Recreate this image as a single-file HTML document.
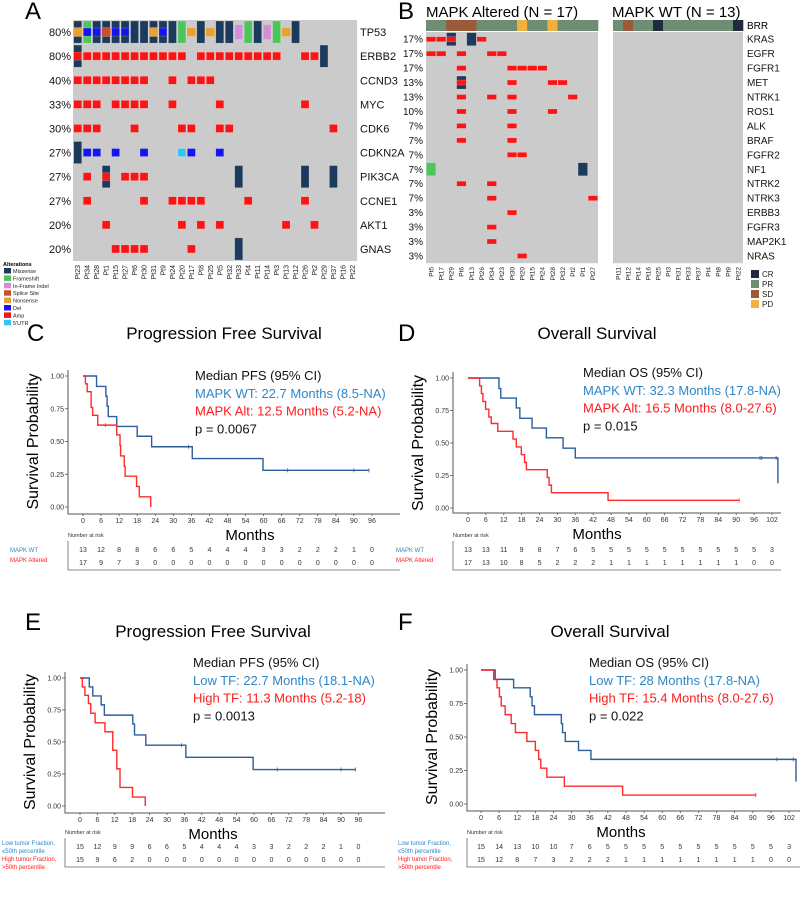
<!DOCTYPE html>
<html><head><meta charset="utf-8">
<style>
html,body{margin:0;padding:0;background:#fff;}
svg{display:block;font-family:"Liberation Sans",sans-serif;}
</style></head>
<body>
<svg id="fig" width="800" height="902" viewBox="0 0 800 902" xmlns="http://www.w3.org/2000/svg"></svg>
<script>
// ---------- Panel A data ----------
const aGenes = ["TP53","ERBB2","CCND3","MYC","CDK6","CDKN2A","PIK3CA","CCNE1","AKT1","GNAS"];
const aPct = ["80%","80%","40%","33%","30%","27%","27%","27%","20%","20%"];
const aPatients = ["Pt23","Pt34","Pt28","Pt1","Pt15","Pt27","Pt6","Pt30","Pt31","Pt9","Pt24","Pt20","Pt17","Pt8","Pt25","Pt5","Pt32","Pt33","Pt4","Pt11","Pt14","Pt3","Pt13","Pt12","Pt26","Pt2","Pt29","Pt37","Pt16","Pt22"];
const aRows = [
"MN FD MD MS MD MD M M MN MD M F DN M N M M I F M I F N M . . . . . .",
"MA A A A A A A A A A A A . A A A A A A A A A . . A A M . . .",
"A A A A A A A A . . A . A A A . . . . . . . . . . . . . . .",
"A A A . A A A A . . A . . . . A . . . . . . . . A . . . . .",
"A A A . . . A . . . . A A . . A A . . . . . . . . . . A . .",
"M D D . D . . D . . . U D . . D . . . . . . . . . . . . . .",
". A . MA . A A A . . . . . . . . . M . . . . . . M . . M . .",
". A . . . . . A . . A A A A . . . . A . . . . . A . . . . .",
". . . A . . . . . . . A . A . A . . . . . . A . . A . . . .",
". . . . A A A A . . . . A . . . . M . . . . . . . . . . . ."
];
// ---------- Panel B data ----------
const bGenes = ["KRAS","EGFR","FGFR1","MET","NTRK1","ROS1","ALK","BRAF","FGFR2","NF1","NTRK2","NTRK3","ERBB3","FGFR3","MAP2K1","NRAS"];
const bPct = ["17%","17%","17%","13%","13%","10%","7%","7%","7%","7%","7%","7%","3%","3%","3%","3%"];
const bAltPatients = ["Pt5","Pt17","Pt29","Pt6","Pt13","Pt26","Pt34","Pt23","Pt30","Pt20","Pt15","Pt24","Pt28","Pt32","Pt2","Pt1","Pt27"];
const bWtPatients = ["Pt11","Pt12","Pt14","Pt16","Pt25","Pt3","Pt31","Pt33","Pt37","Pt4","Pt8","Pt9","Pt22"];
const bAltBRR = ["PR","PR","SD","SD","SD","PR","PR","PR","PR","PD","PR","PR","PD","PR","PR","PR","PR"];
const bWtBRR = ["PR","SD","PR","PR","CR","PR","PR","PR","PR","PR","PR","PR","CR"];
const bRows = [
"A A MA . M A . . . . . . . . . . .",
"A A . A . . A A . . . . . . . . .",
". . . A . . . . A A A A . . . . .",
". . . MA . . . . A . . . A A . . .",
". . . A . . A . A . . . . . A . .",
". . . A . . . . A . . . A . . . .",
". . . A . . . . A . . . . . . . .",
". . . A . . . . A . . . . . . . .",
". . . . . . . . A A . . . . . . .",
"F . . . . . . . . . . . . . . M .",
". . . A . . A . . . . . . . . . .",
". . . . . . A . . . . . . . . . A",
". . . . . . . . A . . . . . . . .",
". . . . . . A . . . . . . . . . .",
". . . . . . A . . . . . . . . . .",
". . . . . . . . . A . . . . . . ."
];
// ---------- KM data ----------
const cWtTimes=[4.5,7.6,8,8.4,11.2,18,22.8,36.3,59.8];
const cWtSurv=[0.92,0.846,0.77,0.69,0.615,0.54,0.46,0.37,0.28];
const cWtCens=[35,68,90,95];
const cAltTimes=[0.8,1.4,2.7,3.2,4.9,11.2,12.3,12.5,13.7,14,17.8,18.7,22.5];
const cAltSurv=[0.94,0.88,0.76,0.70,0.625,0.55,0.47,0.39,0.31,0.235,0.157,0.078,0];
const cAltCens=[7.4];
const cRiskWt=[13,12,8,8,6,6,5,4,4,4,3,3,2,2,2,1,0];
const cRiskAlt=[17,9,7,3,0,0,0,0,0,0,0,0,0,0,0,0,0];

const dWtTimes=[10.4,11,16.2,17.4,21.5,26.3,31.9,36,104];
const dWtSurv=[0.92,0.846,0.77,0.69,0.615,0.54,0.46,0.385,0.19];
const dWtCens=[98,98.6,103.4];
const dAltTimes=[3.9,4.5,5,5.9,7,7.8,10,15.1,16.2,17.9,19,19.6,26.6,27.2,28,47];
const dAltSurv=[0.94,0.88,0.82,0.76,0.70,0.65,0.59,0.53,0.47,0.41,0.35,0.295,0.235,0.176,0.118,0.059];
const dAltCens=[91];
const dRiskWt=[13,13,11,9,8,7,6,5,5,5,5,5,5,5,5,5,5,3];
const dRiskAlt=[17,13,10,8,5,2,2,2,1,1,1,1,1,1,1,1,0,0];

const eLowTimes=[3.2,4.4,7.3,8.4,18.2,18.8,22.7,36.5,59.7];
const eLowSurv=[0.93,0.86,0.79,0.71,0.64,0.555,0.475,0.38,0.285];
const eLowCens=[35,68,90,95];
const eHighTimes=[0.8,1.7,2.9,3.7,5.2,8.6,11.3,12.7,13.8,18.1,22.5];
const eHighSurv=[0.93,0.865,0.80,0.725,0.65,0.58,0.435,0.29,0.145,0.07,0];
const eHighCens=[];
const eRiskLow=[15,12,9,9,6,6,5,4,4,4,3,3,2,2,2,1,0];
const eRiskHigh=[15,9,6,2,0,0,0,0,0,0,0,0,0,0,0,0,0];

const fLowTimes=[4.7,10.8,16.3,16.9,17.7,26.6,27,27.9,32.3,36.4,104.3];
const fLowSurv=[0.93,0.867,0.80,0.733,0.667,0.60,0.533,0.467,0.40,0.333,0.167];
const fLowCens=[98,103.4];
const fHighTimes=[4.2,5.3,6.1,6.7,8,10,11.4,15.2,18,19.1,19.8,21.8,27.6,46.9];
const fHighSurv=[0.93,0.867,0.80,0.733,0.667,0.60,0.533,0.467,0.40,0.333,0.267,0.20,0.133,0.067];
const fHighCens=[91];
const fRiskLow=[15,14,13,10,10,7,6,5,5,5,5,5,5,5,5,5,5,3];
const fRiskHigh=[15,12,8,7,3,2,2,2,1,1,1,1,1,1,1,1,0,0];

const yTicks=["0.00","0.25","0.50","0.75","1.00"];

// ---------- helpers ----------
const NS="http://www.w3.org/2000/svg";
const svg=document.getElementById('fig');
function el(tag,attrs,parent,txt){const e=document.createElementNS(NS,tag);for(const k in attrs)e.setAttribute(k,attrs[k]);if(txt!==undefined)e.textContent=txt;(parent||svg).appendChild(e);return e;}
const COL={M:"#1b3a5c",F:"#4cc65c",I:"#d38fd6",S:"#c8502a",N:"#e9a035",D:"#1414ee",A:"#fb1414",U:"#33c4f2"};
const BRRC={CR:"#222a42",PR:"#6f8d73",SD:"#9b5b3b",PD:"#f0b142"};

// ---------- Panel A ----------
(function(){
  const g=el('g',{});
  
  
  const lab=el('text',{x:25,y:19,'font-size':24},g,'A');
  
  const x0=73,y0=20,cw=9.47,rh=24.1;
  const bg=el('rect',{x:x0,y:y0,width:cw*aPatients.length,height:rh*aGenes.length,fill:'#cbcbcb'},g);
  
  aGenes.forEach((gn,r)=>{
    const cy=y0+rh*r+rh/2;
    const t=el('text',{x:360,y:cy+4,'font-size':11,fill:'#111'},g,gn);
    
    const p=el('text',{x:71,y:cy+4,'font-size':11,'text-anchor':'end',fill:'#111'},g,aPct[r]);
    
    aRows[r].split(' ').forEach((code,c)=>{
      if(code==='.')return;
      const cx=x0+cw*c+cw/2;
      for(const ch of code){
        let w=8,h;
        if(ch==='M'||ch==='F'){h=rh-2;}else if(ch==='I'){h=15;}else{h=8;}
        if(ch==='N'||ch==='S'){w=9;h=9;}
        const rc=el('rect',{x:cx-w/2,y:cy-h/2,width:w,height:h,fill:COL[ch],stroke:'rgba(255,255,255,0.35)','stroke-width':0.5},g);
        
      }
    });
  });
  aPatients.forEach((p,c)=>{
    const cx=x0+cw*c+cw/2;
    const t=el('text',{x:0,y:0,'font-size':7,'text-anchor':'end',fill:'#222',transform:`translate(${cx+2.5},${265}) rotate(-90)`},g,p);
    
  });
  // legend
  const lg=el('g',{},g);
  
  el('text',{x:3,y:266,'font-size':5.5,'font-weight':'bold'},lg,'Alterations');
  const items=[["Missense","M"],["Frameshift","F"],["In-Frame Indel","I"],["Splice Site","S"],["Nonsense","N"],["Del","D"],["Amp","A"],["5'UTR","U"]];
  items.forEach((it,i)=>{
    const y=268+i*7.4;
    const e=el('rect',{x:4,y:y,width:7,height:5.5,fill:COL[it[1]]},lg);
    
    el('text',{x:13,y:y+5,'font-size':5.5,fill:'#222'},lg,it[0]);
  });
})();

// ---------- Panel B ----------
(function(){
  const g=el('g',{});
  
  
  const lab=el('text',{x:398,y:19,'font-size':24},g,'B');
  
  const t1=el('text',{x:426,y:17,'font-size':15},g,'MAPK Altered (N = 17)');
  
  const t2=el('text',{x:612,y:17,'font-size':15},g,'MAPK WT (N = 13)');
  
  const y0=32,rh=14.45,brrY=20,brrH=11;
  function block(x0,width,pats,brr,rows){
    const cw=width/pats.length;
    const bg=el('rect',{x:x0,y:y0,width:width,height:rh*bGenes.length,fill:'#cbcbcb'},g);
    
    brr.forEach((b,c)=>{
      const r=el('rect',{x:x0+cw*c,y:brrY,width:cw+0.3,height:brrH,fill:BRRC[b]},g);
      
    });
    pats.forEach((p,c)=>{
      const cx=x0+cw*c+cw/2;
      const t=el('text',{x:0,y:0,'font-size':6.5,'text-anchor':'end',fill:'#222',transform:`translate(${cx+2.3},${267}) rotate(-90)`},g,p);
      
    });
    if(rows) rows.forEach((row,r)=>{
      const cy=y0+rh*r+rh/2;
      row.split(' ').forEach((code,c)=>{
        if(code==='.')return;
        const cx=x0+cw*c+cw/2;
        for(const ch of code){
          const h=(ch==='M'||ch==='F')?13:5, w=9.5;
          const rc=el('rect',{x:cx-w/2,y:cy-h/2,width:w,height:h,fill:COL[ch],stroke:'rgba(255,255,255,0.35)','stroke-width':0.5},g);
          
        }
      });
    });
  }
  block(426,172,bAltPatients,bAltBRR,bRows);
  block(613,130,bWtPatients,bWtBRR,null);
  const bl=el('text',{x:747,y:29,'font-size':10},g,'BRR');
  
  bGenes.forEach((gn,r)=>{
    const cy=y0+rh*r+rh/2;
    const t=el('text',{x:747,y:cy+3.5,'font-size':10,fill:'#111'},g,gn);
    
    const p=el('text',{x:423,y:cy+3.5,'font-size':10,'text-anchor':'end',fill:'#111'},g,bPct[r]);
    
  });
  const lg=el('g',{},g);
  
  ["CR","PR","SD","PD"].forEach((k,i)=>{
    const y=270+i*10;
    const s=el('rect',{x:751,y:y,width:8,height:8,fill:BRRC[k]},lg);
    
    el('text',{x:762,y:y+7,'font-size':8,fill:'#222'},lg,k);
  });
})();

// ---------- KM panels ----------
function kmPanel(o){
  const g=el('g',{});
  
  
  const L=el('text',{x:o.labX,y:o.labY,'font-size':24},g,o.label);
  
  const T=el('text',{x:o.titleX,y:o.titleY,'font-size':17,'text-anchor':'middle'},g,o.title);
  
  const xs=t=>o.x0+t*o.pxm, ys=s=>o.yB+(o.yT-o.yB)*s;
  // axes
  const ax=el('path',{d:`M${o.axL},${o.yT-6} V${o.axB} H${o.axR}`,fill:'none',stroke:'#555','stroke-width':1},g);
  
  yTicks.forEach((lbl,i)=>{
    const y=ys(parseFloat(lbl));
    el('line',{x1:o.axL-3,x2:o.axL,y1:y,y2:y,stroke:'#555','stroke-width':0.8},g);
    const t=el('text',{x:o.axL-4,y:y+2.5,'font-size':7,'text-anchor':'end',fill:'#333'},g,lbl);
    
  });
  for(let m=0;m<=o.maxT;m+=6){
    const x=xs(m);
    el('line',{x1:x,x2:x,y1:o.axB,y2:o.axB+2,stroke:'#555','stroke-width':0.8},g);
    const t=el('text',{x:x,y:o.axB+9,'font-size':7,'text-anchor':'middle',fill:'#333'},g,String(m));
    
  }
  const XT=el('text',{x:o.monthsX,y:o.axB+26,'font-size':15,'text-anchor':'middle'},g,'Months');
  
  const YT=el('text',{x:0,y:0,'font-size':16,'text-anchor':'middle',transform:`translate(${o.axL-30},${(o.yT+o.yB)/2}) rotate(-90)`},g,'Survival Probability');
  
  // curves
  function curve(times,surv,cens,end,color,nm){
    let d=`M${xs(0)},${ys(1)}`;let s=1;
    times.forEach((t,i)=>{d+=` H${xs(t)} V${ys(surv[i])}`;s=surv[i];});
    const last=Math.max(end,times[times.length-1]||0);
    d+=` H${xs(last)}`;
    const p=el('path',{d:d,fill:'none',stroke:color,'stroke-width':1.4},g);
    
    cens.forEach(c=>{
      let sv=1;times.forEach((t,i)=>{if(t<=c)sv=surv[i];});
      const k=el('line',{x1:xs(c),x2:xs(c),y1:ys(sv)-2,y2:ys(sv)+2,stroke:color,'stroke-width':0.8},g);
      
    });
  }
  const endA=Math.max(...o.aCens,...o.aTimes), endB=Math.max(...o.bCens.concat([0]),...o.bTimes);
  curve(o.aTimes,o.aSurv,o.aCens,endA,'#2d5d9c',o.aName);
  curve(o.bTimes,o.bSurv,o.bCens,endB,'#ff2a2a',o.bName);
  // legend text
  const lg=el('g',{},g);
  
  o.legend.forEach((ln,i)=>{
    el('text',{x:o.legX,y:o.legY+i*17.8,'font-size':13,fill:ln[1]},lg,ln[0]);
  });
  // risk table
  const rt=el('g',{},g);
  
  el('text',{x:o.axL,y:o.riskY-12,'font-size':5.5,fill:'#333'},rt,'Number at risk');
  el('path',{d:`M${o.axL},${o.riskY-8} V${o.riskY+21} H${o.axR}`,fill:'none',stroke:'#666','stroke-width':0.8},rt);
  [o.riskA,o.riskB].forEach((arr,r)=>{
    arr.forEach((v,i)=>{
      const t=el('text',{x:xs(i*6),y:o.riskY+3+r*13,'font-size':7,'text-anchor':'middle',fill:'#333'},rt,String(v));
      
    });
  });
  o.riskLabels.forEach(l=>{
    el('text',{x:l[0],y:l[1],'font-size':l[3]||6,fill:l[2]},rt,l[4]);
  });
}

const BL='#2f86c6',RD='#ff1a1a';
kmPanel({name:'panel-c-pfs-mapk',label:'C',labX:27,labY:341,title:'Progression Free Survival',titleX:224,titleY:339,
  x0:83,pxm:3.01,yT:376,yB:507,axL:68,axB:514,axR:400,maxT:96,monthsX:250,
  aTimes:cWtTimes,aSurv:cWtSurv,aCens:cWtCens,bTimes:cAltTimes,bSurv:cAltSurv,bCens:cAltCens,aName:'mapk-wt-curve',bName:'mapk-altered-curve',
  legX:195,legY:380,legend:[['Median PFS (95% CI)','#111'],['MAPK WT: 22.7 Months (8.5-NA)',BL],['MAPK Alt: 12.5 Months (5.2-NA)',RD],['p = 0.0067','#111']],
  riskY:549,riskA:cRiskWt,riskB:cRiskAlt,
  riskLabels:[[10,552,BL,6,'MAPK WT'],[10,562,RD,6,'MAPK Altered']]});
kmPanel({name:'panel-d-os-mapk',label:'D',labX:398,labY:341,title:'Overall Survival',titleX:597,titleY:339,
  x0:468,pxm:2.98,yT:378,yB:508,axL:453,axB:513,axR:781,maxT:102,monthsX:597,
  aTimes:dWtTimes,aSurv:dWtSurv,aCens:dWtCens,bTimes:dAltTimes,bSurv:dAltSurv,bCens:dAltCens,aName:'mapk-wt-curve',bName:'mapk-altered-curve',
  legX:583,legY:377,legend:[['Median OS (95% CI)','#111'],['MAPK WT: 32.3 Months (17.8-NA)',BL],['MAPK Alt: 16.5 Months (8.0-27.6)',RD],['p = 0.015','#111']],
  riskY:549,riskA:dRiskWt,riskB:dRiskAlt,
  riskLabels:[[396,552,BL,6,'MAPK WT'],[396,562,RD,6,'MAPK Altered']]});
kmPanel({name:'panel-e-pfs-tf',label:'E',labX:25,labY:630,title:'Progression Free Survival',titleX:213,titleY:637,
  x0:80,pxm:2.9,yT:678,yB:806,axL:65,axB:813,axR:385,maxT:96,monthsX:213,
  aTimes:eLowTimes,aSurv:eLowSurv,aCens:eLowCens,bTimes:eHighTimes,bSurv:eHighSurv,bCens:eHighCens,aName:'low-tf-curve',bName:'high-tf-curve',
  legX:193,legY:667,legend:[['Median PFS (95% CI)','#111'],['Low TF: 22.7 Months (18.1-NA)',BL],['High TF: 11.3 Months (5.2-18)',RD],['p = 0.0013','#111']],
  riskY:846,riskA:eRiskLow,riskB:eRiskHigh,
  riskLabels:[[2,845,BL,6,'Low tumor Fraction,'],[2,853,BL,6,'\u226450th percentile'],[2,861,RD,6,'High tumor Fraction,'],[2,869,RD,6,'>50th percentile']]});
kmPanel({name:'panel-f-os-tf',label:'F',labX:398,labY:630,title:'Overall Survival',titleX:610,titleY:637,
  x0:481,pxm:3.02,yT:670,yB:804,axL:467,axB:811,axR:800,maxT:102,monthsX:621,
  aTimes:fLowTimes,aSurv:fLowSurv,aCens:fLowCens,bTimes:fHighTimes,bSurv:fHighSurv,bCens:fHighCens,aName:'low-tf-curve',bName:'high-tf-curve',
  legX:589,legY:667,legend:[['Median OS (95% CI)','#111'],['Low TF: 28 Months (17.8-NA)',BL],['High TF: 15.4 Months (8.0-27.6)',RD],['p = 0.022','#111']],
  riskY:846,riskA:fRiskLow,riskB:fRiskHigh,
  riskLabels:[[398,845,BL,6,'Low tumor Fraction,'],[398,853,BL,6,'\u226450th percentile'],[398,861,RD,6,'High tumor Fraction,'],[398,869,RD,6,'>50th percentile']]});
</script>
</body></html>
